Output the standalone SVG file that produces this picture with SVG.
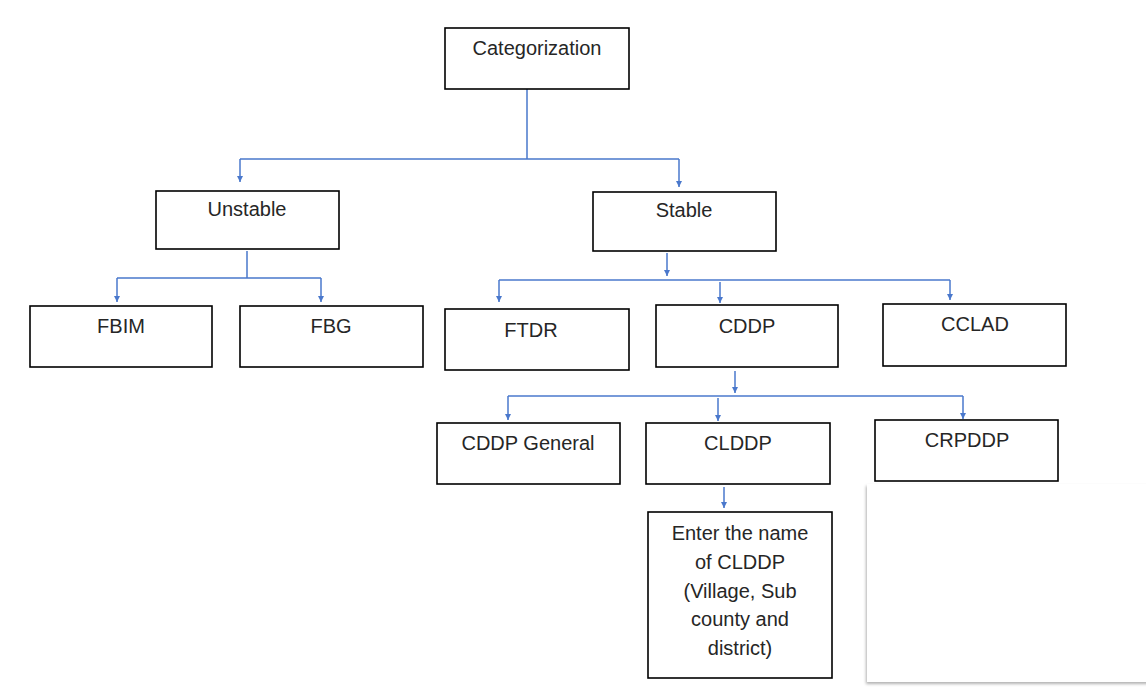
<svg xmlns="http://www.w3.org/2000/svg" width="1146" height="694" viewBox="0 0 1146 694">
<style>
.box{fill:#fff;stroke:#000;stroke-width:1.6}
.t{font-family:"Liberation Sans",Arial,sans-serif;font-size:20px;fill:#262626;text-anchor:middle}
.c{fill:none;stroke:#4a78cc;stroke-width:1.5}
</style>
<defs>
<marker id="a" markerWidth="8" markerHeight="8" refX="4" refY="7" markerUnits="userSpaceOnUse">
<path d="M1,1 L4,7 L7,1 Z" fill="#4a78cc"/>
</marker>
<filter id="sh" x="-5%" y="-5%" width="110%" height="110%">
<feDropShadow dx="-1" dy="2" stdDeviation="1.5" flood-color="#000" flood-opacity="0.3"/>
</filter>
</defs>
<rect width="1146" height="694" fill="#fff"/>
<rect x="867" y="484" width="285" height="198" fill="#fff" filter="url(#sh)"/>
<g id="connectors">
<path class="c" d="M527,89 V159 M240,159 H679"/>
<path class="c" d="M240,159 V182" marker-end="url(#a)"/>
<path class="c" d="M679,159 V187" marker-end="url(#a)"/>
<path class="c" d="M247,251 V278 M117,278 H321"/>
<path class="c" d="M117,278 V302" marker-end="url(#a)"/>
<path class="c" d="M321,278 V302" marker-end="url(#a)"/>
<path class="c" d="M667,253 V276" marker-end="url(#a)"/>
<path class="c" d="M499,280 H950"/>
<path class="c" d="M499,280 V302" marker-end="url(#a)"/>
<path class="c" d="M720,282 V303" marker-end="url(#a)"/>
<path class="c" d="M950,280 V300" marker-end="url(#a)"/>
<path class="c" d="M735,371 V393" marker-end="url(#a)"/>
<path class="c" d="M508,396 H963"/>
<path class="c" d="M508,396 V420" marker-end="url(#a)"/>
<path class="c" d="M718,398 V421" marker-end="url(#a)"/>
<path class="c" d="M963,396 V419" marker-end="url(#a)"/>
<path class="c" d="M724,487 V508" marker-end="url(#a)"/>
</g>
<g id="categorization"><rect class="box" x="445" y="28" width="184" height="61"/><text class="t" x="537" y="55">Categorization</text></g>
<g id="unstable"><rect class="box" x="156" y="191" width="183" height="58"/><text class="t" x="247" y="216">Unstable</text></g>
<g id="stable"><rect class="box" x="593" y="192" width="183" height="59"/><text class="t" x="684" y="217">Stable</text></g>
<g id="fbim"><rect class="box" x="30" y="306" width="182" height="61"/><text class="t" x="121" y="333">FBIM</text></g>
<g id="fbg"><rect class="box" x="240" y="306" width="183" height="61"/><text class="t" x="331" y="333">FBG</text></g>
<g id="ftdr"><rect class="box" x="445" y="309" width="184" height="61"/><text class="t" x="531" y="337">FTDR</text></g>
<g id="cddp"><rect class="box" x="656" y="305" width="182" height="62"/><text class="t" x="747" y="333">CDDP</text></g>
<g id="cclad"><rect class="box" x="883" y="304" width="183" height="62"/><text class="t" x="975" y="331">CCLAD</text></g>
<g id="cddp-general"><rect class="box" x="437" y="423" width="183" height="61"/><text class="t" x="528" y="450">CDDP General</text></g>
<g id="clddp"><rect class="box" x="646" y="423" width="184" height="61"/><text class="t" x="738" y="450">CLDDP</text></g>
<g id="crpddp"><rect class="box" x="875" y="420" width="183" height="61"/><text class="t" x="967" y="447">CRPDDP</text></g>
<g id="clddp-name"><rect class="box" x="648" y="512" width="184" height="166"/>
<text class="t" x="740" y="540">Enter the name</text>
<text class="t" x="740" y="569">of CLDDP</text>
<text class="t" x="740" y="598">(Village, Sub</text>
<text class="t" x="740" y="626">county and</text>
<text class="t" x="740" y="655">district)</text>
</g>
</svg>
